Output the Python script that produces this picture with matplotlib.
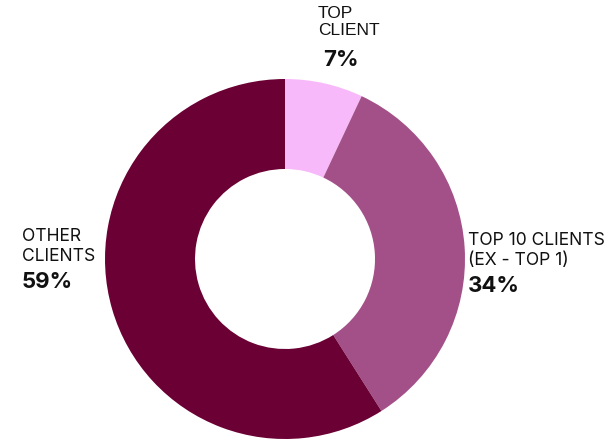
import matplotlib
matplotlib.use("Agg")
import matplotlib.pyplot as plt

# Client revenue concentration
segments = ["TOP\nCLIENT", "TOP 10 CLIENTS\n(EX - TOP 1)", "OTHER\nCLIENTS"]
shares = [7, 34, 59]
colors = ["#F8B9FA", "#A35088", "#6B0034"]

W, H = 609, 441
fig = plt.figure(figsize=(W / 100, H / 100), dpi=100)
ax = fig.add_axes([0, 0, 1, 1])

cx, cy, R = 285, H - 259, 180
ax.pie(shares, colors=colors, startangle=90, counterclock=False,
       center=(cx, cy), radius=R, frame=True,
       wedgeprops=dict(width=R * 0.5, linewidth=0))
ax.set_xlim(0, W)
ax.set_ylim(0, H)
ax.set_aspect("equal")
ax.axis("off")

font = "Inter"
label_pos = [(318, H - 6, "Liberation Sans", 323, 12.5),
             (468, H - 232, font, 468, 12.6),
             (22, H - 228, font, 22, 12.6)]
for (lbl, val, (x, y, fam, px, fs)) in zip(segments, shares, label_pos):
    n = lbl.count("\n") + 1
    ax.text(x, y, lbl, ha="left", va="top", fontsize=fs, family=fam,
            color="#111111", linespacing=1.2)
    ax.text(px, y - n * 21 - 2, f"{val}%", ha="left", va="top",
            fontsize=16, family=font, fontweight="bold", color="#111111")

fig.savefig("out.png", dpi=100)
